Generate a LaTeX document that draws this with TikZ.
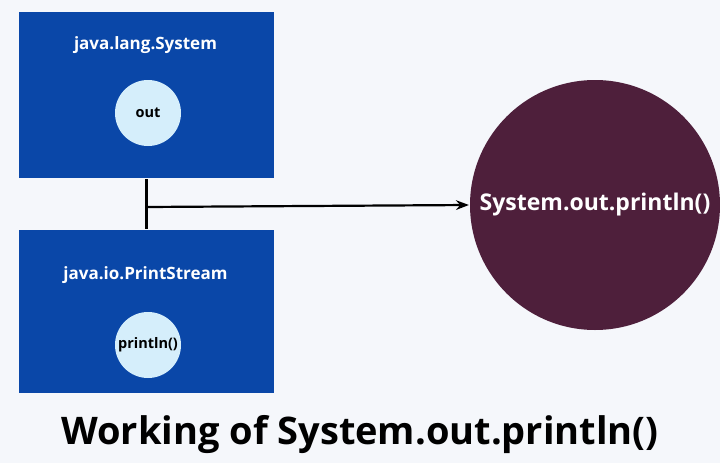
\documentclass[tikz,border=0pt]{standalone}
\usepackage{fontspec}
\setmainfont{Open Sans}
\usetikzlibrary{arrows.meta,positioning}
\definecolor{boxblue}{HTML}{0A47A8}
\definecolor{ballblue}{HTML}{D5EEFB}
\definecolor{plum}{HTML}{4E1F3B}
\definecolor{paper}{HTML}{F5F7FB}
\tikzset{
  classbox/.style={fill=boxblue,draw=none,minimum width=255pt,minimum height=166pt,inner sep=0pt},
  member/.style={circle,fill=ballblue,draw=none,minimum size=66pt,inner sep=0pt,font=\bfseries\fontsize{14.5}{17}\selectfont},
  boxtitle/.style={text=white,font=\bfseries\fontsize{17}{20}\selectfont},
}
\begin{document}
\begin{tikzpicture}[x=1pt,y=-1pt,line width=2.2pt,>=Stealth]
    \fill[paper] (0,0) rectangle (720,463);
    \useasboundingbox (0,0) rectangle (720,463);

    \node[classbox] (system) at (146.5,95) {};
    \node[boxtitle] at (145.5,45) {java.lang.System};
    \node[member] (out) at (148,113) {out};

    \node[classbox,minimum height=163pt] (stream) at (146.5,311.5) {};
    \node[boxtitle] at (145.5,275) {java.io.PrintStream};
    \node[member] (println) at (148,345) {println()};

    \node[circle,fill=plum,minimum size=250pt,inner sep=0pt,text=white,
          font=\bfseries\fontsize{23}{26}\selectfont] (call) at (595,205) {System.out.println()};

    \coordinate (joint) at (146.5,207);
    \draw (system.south) -- (stream.north);
    \draw[->] (joint) -- (call.west);

    \node[font=\bfseries\fontsize{38}{44}\selectfont] (caption) at (360,435) {Working of System.out.println()};
\end{tikzpicture}
\end{document}
